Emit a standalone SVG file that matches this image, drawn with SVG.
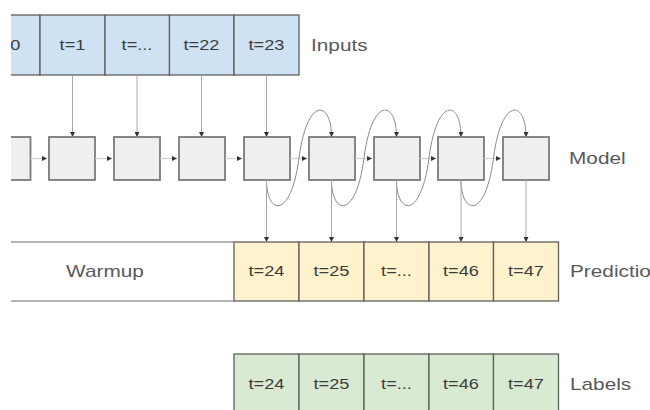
<svg xmlns="http://www.w3.org/2000/svg" width="650" height="410" viewBox="0 0 650 410">
  <style>
    .cell { stroke: #5f5f5f; stroke-width: 1.3; }
    .in { fill: #cfe2f3; }
    .pred { fill: #fff2cc; }
    .lab { fill: #d9ead3; }
    .box { fill: #efefef; stroke: #7a7a7a; stroke-width: 1.8; }
    .ct { font-family: "Liberation Sans", Arial, sans-serif; font-size: 14px; fill: #3c3c3c; text-anchor: middle; }
    .rt { font-family: "Liberation Sans", Arial, sans-serif; font-size: 16px; fill: #595959; }
    .ln { fill: none; stroke: #a8a8a8; stroke-width: 1; }
    .hl { fill: none; stroke: #d0d0d0; stroke-width: 1.2; }
    .cv { fill: none; stroke: #8a8a8a; stroke-width: 1; }
    .rule { stroke: #9a9a9a; stroke-width: 1.3; }
  </style>
  <defs>
    <marker id="ah" viewBox="0 0 6 6" refX="6" refY="3" markerWidth="5" markerHeight="5" orient="auto" markerUnits="userSpaceOnUse">
      <path d="M0,0 L6,3 L0,6 z" fill="#333"/>
    </marker>
    <clipPath id="page">
      <rect x="11" y="0" width="639" height="410"/>
    </clipPath>
  </defs>
  <rect width="650" height="410" fill="#fff"/>

  <g clip-path="url(#page)">
    <!-- input time steps -->
    <g id="inputs">
      <rect class="cell in" x="-25" y="15" width="65" height="60"/>
      <rect class="cell in" x="40" y="15" width="65" height="60"/>
      <rect class="cell in" x="105" y="15" width="64.5" height="60"/>
      <rect class="cell in" x="169.5" y="15" width="64.5" height="60"/>
      <rect class="cell in" x="234" y="15" width="65" height="60"/>
      <text class="ct" transform="translate(7.5,50) scale(1.3,1)">t=0</text>
      <text class="ct" transform="translate(72.5,50) scale(1.3,1)">t=1</text>
      <text class="ct" transform="translate(137,50) scale(1.3,1)">t=...</text>
      <text class="ct" transform="translate(201.5,50) scale(1.3,1)">t=22</text>
      <text class="ct" transform="translate(266.5,50) scale(1.3,1)">t=23</text>
    </g>

    <!-- recurrent model cells -->
    <g id="model">
      <rect class="box" x="-15.5" y="137" width="46" height="43"/>
      <rect class="box" x="49" y="137" width="46" height="43"/>
      <rect class="box" x="114" y="137" width="46" height="43"/>
      <rect class="box" x="179" y="137" width="46" height="43"/>
      <rect class="box" x="244" y="137" width="46" height="43"/>
      <rect class="box" x="309" y="137" width="46" height="43"/>
      <rect class="box" x="374" y="137" width="46" height="43"/>
      <rect class="box" x="438" y="137" width="46" height="43"/>
      <rect class="box" x="503" y="137" width="46" height="43"/>
    </g>

    <!-- warm-up band -->
    <g id="warmup">
      <line class="rule" x1="0" y1="242" x2="234" y2="242"/>
      <line class="rule" x1="0" y1="301" x2="234" y2="301"/>
      <text class="rt" text-anchor="middle" transform="translate(105,277) scale(1.3,1)">Warmup</text>
    </g>
  </g>

  <!-- predicted outputs -->
  <g id="predictions">
    <rect class="cell pred" x="234" y="242" width="65" height="59"/>
    <rect class="cell pred" x="299" y="242" width="65" height="59"/>
    <rect class="cell pred" x="364" y="242" width="65" height="59"/>
    <rect class="cell pred" x="429" y="242" width="64.5" height="59"/>
    <rect class="cell pred" x="493.5" y="242" width="65" height="59"/>
    <text class="ct" transform="translate(266.5,276) scale(1.3,1)">t=24</text>
    <text class="ct" transform="translate(331.5,276) scale(1.3,1)">t=25</text>
    <text class="ct" transform="translate(396.5,276) scale(1.3,1)">t=...</text>
    <text class="ct" transform="translate(461,276) scale(1.3,1)">t=46</text>
    <text class="ct" transform="translate(526,276) scale(1.3,1)">t=47</text>
  </g>

  <!-- ground-truth labels -->
  <g id="labels">
    <rect class="cell lab" x="234" y="354" width="65" height="59"/>
    <rect class="cell lab" x="299" y="354" width="65" height="59"/>
    <rect class="cell lab" x="364" y="354" width="65" height="59"/>
    <rect class="cell lab" x="429" y="354" width="64.5" height="59"/>
    <rect class="cell lab" x="493.5" y="354" width="65" height="59"/>
    <text class="ct" transform="translate(266.5,389) scale(1.3,1)">t=24</text>
    <text class="ct" transform="translate(331.5,389) scale(1.3,1)">t=25</text>
    <text class="ct" transform="translate(396.5,389) scale(1.3,1)">t=...</text>
    <text class="ct" transform="translate(461,389) scale(1.3,1)">t=46</text>
    <text class="ct" transform="translate(526,389) scale(1.3,1)">t=47</text>
  </g>

  <!-- row captions -->
  <g id="captions">
    <text class="rt" transform="translate(311,51) scale(1.3,1)">Inputs</text>
    <text class="rt" transform="translate(569,164) scale(1.3,1)">Model</text>
    <text class="rt" transform="translate(570,277) scale(1.3,1)">Predictions</text>
    <text class="rt" transform="translate(570,390) scale(1.3,1)">Labels</text>
  </g>

  <g id="connectors" clip-path="url(#page)">
    <!-- inputs into model -->
    <path class="ln" marker-end="url(#ah)" d="M72.5,75 V137"/>
    <path class="ln" marker-end="url(#ah)" d="M137,75 V137"/>
    <path class="ln" marker-end="url(#ah)" d="M201.5,75 V137"/>
    <path class="ln" marker-end="url(#ah)" d="M266.5,75 V137"/>
    <!-- state passed between cells -->
    <path class="hl" marker-end="url(#ah)" d="M30.5,158.5 H47"/>
    <path class="hl" marker-end="url(#ah)" d="M95,158.5 H112"/>
    <path class="hl" marker-end="url(#ah)" d="M160,158.5 H177"/>
    <path class="hl" marker-end="url(#ah)" d="M225,158.5 H242"/>
    <path class="hl" marker-end="url(#ah)" d="M290,158.5 H307"/>
    <path class="hl" marker-end="url(#ah)" d="M355,158.5 H372"/>
    <path class="hl" marker-end="url(#ah)" d="M420,158.5 H436"/>
    <path class="hl" marker-end="url(#ah)" d="M484,158.5 H501"/>
    <!-- each prediction fed back as the next input -->
    <path class="cv" marker-end="url(#ah)" d="M266.5,180 C266.5,215 291,220 299,158 C307,96 331.5,100 331.5,137"/>
    <path class="cv" marker-end="url(#ah)" d="M331.5,180 C331.5,215 356,220 364,158 C372,96 396.5,100 396.5,137"/>
    <path class="cv" marker-end="url(#ah)" d="M396.5,180 C396.5,215 421,220 429,158 C437,96 461,100 461,137"/>
    <path class="cv" marker-end="url(#ah)" d="M461,180 C461,215 485.5,220 493.5,158 C501.5,96 526,100 526,137"/>
    <!-- model outputs -->
    <path class="ln" marker-end="url(#ah)" d="M266.5,180 V242"/>
    <path class="ln" marker-end="url(#ah)" d="M331.5,180 V242"/>
    <path class="ln" marker-end="url(#ah)" d="M396.5,180 V242"/>
    <path class="ln" marker-end="url(#ah)" d="M461,180 V242"/>
    <path class="ln" marker-end="url(#ah)" d="M526,180 V242"/>
  </g>
</svg>
